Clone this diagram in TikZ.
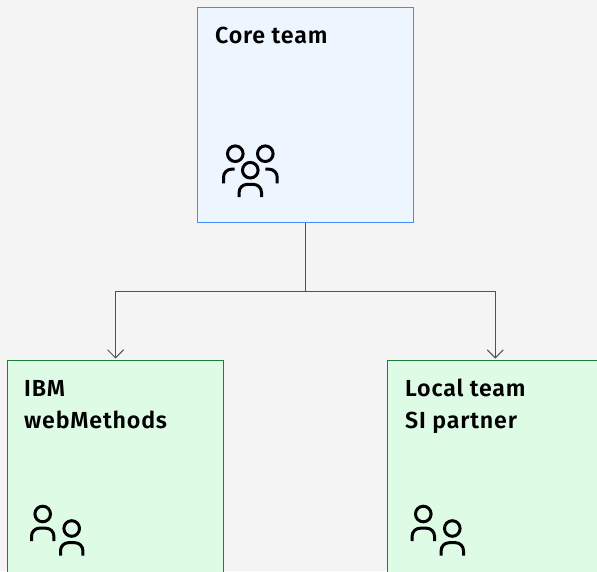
\documentclass[tikz,border=0pt]{standalone}
\usepackage{fontspec}
\setmainfont{Fira Sans}[BoldFont={Fira Sans SemiBold},LetterSpace=3.5]
\usetikzlibrary{arrows.meta}
\definecolor{pagebg}{HTML}{F4F4F4}
\definecolor{corefill}{HTML}{EDF5FF}
\definecolor{coreline}{HTML}{4589FF}
\definecolor{greenfill}{HTML}{DEFBE6}
\definecolor{greenline}{HTML}{198038}
\definecolor{linkgray}{HTML}{525252}
\tikzset{
  x=1pt,y=-1pt,
  card/.style={draw=#1,line width=1.1pt,minimum width=216pt,minimum height=215pt,inner sep=0pt,anchor=north west},
  label/.style={anchor=base west,inner sep=0pt,font=\fontsize{23.2}{32}\selectfont\bfseries,text=black},
  link/.style={draw=linkgray,line width=1pt,-{Straight Barb[length=8pt,width=16pt,line width=1pt]},shorten >=1.5pt},
  icon/.style={draw=black,line width=3pt,line cap=butt},
}
\newcommand{\onepersonicon}[2]{%
  \draw[icon] (#1,#2) circle[radius=7.8pt];
  \draw[icon] (#1-11.2,#2+27) -- (#1-11.2,#2+22.2) arc[start angle=180,end angle=90,radius=8pt] -- ++(6.4,0) arc[start angle=90,end angle=0,radius=8pt] -- ++(0,4.8);
}
\begin{document}
\begin{tikzpicture}
\path[use as bounding box,clip] (0,0) rectangle (597,571);
\fill[pagebg] (0,0) rectangle (597,571);
\node[card=coreline,fill=corefill] (core) at (197,7) {};
\node[card=greenline,fill=greenfill] (ibm) at (7,360) {};
\node[card=greenline,fill=greenfill] (local) at (386.7,360) {};
\path (core.south) ++(0,68.5) coordinate (junction);
\draw[draw=linkgray,line width=1pt] (core.south) -- (junction);
\draw[link] (junction) -| (ibm.north);
\draw[link] (junction) -| (local.north);
\node[label] (coretext) at (215,43) {Core team};
\node[label] (ibmtext1) at (24,396) {IBM};
\node[label] (ibmtext2) at (24,428) {webMethods};
\node[label] (localtext1) at (405,396) {Local team};
\node[label] (localtext2) at (405,428) {SI partner};
% core icon
\draw[icon] (235.3,153.7) circle[radius=7.8pt];
\draw[icon] (265.3,153.7) circle[radius=7.8pt];
\onepersonicon{250.3}{170.2}
\draw[icon] (223.5,183.3) -- (223.5,177.2) arc[start angle=180,end angle=90,radius=8pt] -- ++(3.2,0);
\draw[icon] (277.2,183.3) -- (277.2,177.2) arc[start angle=0,end angle=90,radius=8pt] -- ++(-3.9,0);
% team icons
\onepersonicon{42.7}{514}
\onepersonicon{71.7}{528.5}
\onepersonicon{423.3}{514}
\onepersonicon{452.3}{528.5}
\end{tikzpicture}
\end{document}
